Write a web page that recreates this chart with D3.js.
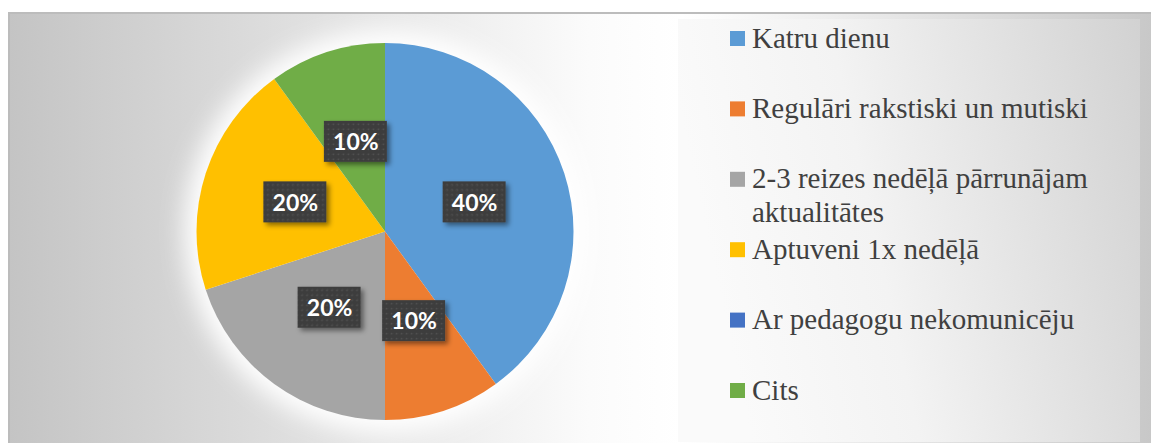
<!DOCTYPE html>
<html>
<head>
<meta charset="utf-8">
<script src="https://cdn.jsdelivr.net/npm/d3@7"></script>
<style>
  body { margin: 0; background: #ffffff; }
  svg { display: block; }
  .legend text { font-family: "Liberation Serif", "Times New Roman", Times, "DejaVu Serif", serif; font-size: 29px; }
  .label text { font-family: Lato, "Open Sans", sans-serif; font-weight: bold; font-size: 23px; }
</style>
</head>
<body>
<div id="chart"></div>
<script>
// chart data
var categories = [
    "Katru dienu",
    "Regulāri rakstiski un mutiski",
    "2-3 reizes nedēļā pārrunājam aktualitātes",
    "Aptuveni 1x nedēļā",
    "Ar pedagogu nekomunicēju",
    "Cits"
];
var shares = [40, 10, 20, 20, 0, 10];
var sliceColors = ["#5B9BD5", "#ED7D31", "#A5A5A5", "#FFC000", "#4472C4", "#70AD47"];

var svgWidth = 1151;
var svgHeight = 443;

var svg = d3.select("#chart")
    .append("svg")
    .attr("width", svgWidth)
    .attr("height", svgHeight);

var defs = svg.append("defs");

// background gradient of the chart area
var bgGrad = defs.append("linearGradient").attr("id", "bgGrad")
    .attr("x1", "0%").attr("y1", "0%").attr("x2", "100%").attr("y2", "0%");
bgGrad.append("stop").attr("offset", "0%").attr("stop-color", "#c4c4c4");
bgGrad.append("stop").attr("offset", "50%").attr("stop-color", "#fbfbfb");
bgGrad.append("stop").attr("offset", "58%").attr("stop-color", "#ffffff");
bgGrad.append("stop").attr("offset", "100%").attr("stop-color", "#c6c6c6");

// legend box gradient
var legGrad = defs.append("linearGradient").attr("id", "legGrad")
    .attr("x1", "0%").attr("y1", "20%").attr("x2", "100%").attr("y2", "0%");
legGrad.append("stop").attr("offset", "0%").attr("stop-color", "#fafafa");
legGrad.append("stop").attr("offset", "35%").attr("stop-color", "#f3f3f3");
legGrad.append("stop").attr("offset", "100%").attr("stop-color", "#d2d2d2");

// white glow round the pie
var glow = defs.append("filter").attr("id", "glow")
    .attr("x", "-30%").attr("y", "-30%").attr("width", "160%").attr("height", "160%");
glow.append("feGaussianBlur").attr("stdDeviation", 12);

// shadow for the label boxes
var shadow = defs.append("filter").attr("id", "shadow")
    .attr("x", "-30%").attr("y", "-30%").attr("width", "160%").attr("height", "170%");
shadow.append("feDropShadow")
    .attr("dx", 3).attr("dy", 3).attr("stdDeviation", 2.5)
    .attr("flood-color", "#000").attr("flood-opacity", 0.45);

// dotted fill of the label boxes
var dots = defs.append("pattern").attr("id", "dots")
    .attr("patternUnits", "userSpaceOnUse").attr("width", 5).attr("height", 5);
dots.append("rect").attr("width", 5).attr("height", 5).attr("fill", "#3e3e3e");
dots.append("circle").attr("cx", 2.5).attr("cy", 2.5).attr("r", 0.8).attr("fill", "#555555");

// outer frame
svg.append("rect")
    .attr("x", 9).attr("y", 13)
    .attr("width", 1160).attr("height", 460)
    .attr("fill", "url(#bgGrad)")
    .attr("stroke", "#bcbcbc")
    .attr("stroke-width", 2);

// pie
var cx = 385, cy = 231.5, radius = 188.5;

var pieGroup = svg.append("g")
    .attr("transform", `translate(${cx}, ${cy})`);

pieGroup.append("circle")
    .attr("r", radius + 12)
    .attr("fill", "#ffffff")
    .attr("filter", "url(#glow)");

var pie = d3.pie().sort(null).value(d => d);
var arc = d3.arc().innerRadius(0).outerRadius(radius);
var arcs = pie(shares);

pieGroup.selectAll("path.slice")
    .data(arcs)
    .enter()
    .append("path")
    .attr("class", "slice")
    .attr("d", arc)
    .attr("fill", (d, i) => sliceColors[i]);

// data labels
var labels = pieGroup.selectAll("g.label")
    .data(arcs.filter(d => d.value > 0))
    .enter()
    .append("g")
    .attr("class", "label")
    .attr("transform", d => `translate(${arc.centroid(d)})`);

labels.append("rect")
    .attr("x", -32).attr("y", -21)
    .attr("width", 63).attr("height", 41)
    .attr("fill", "url(#dots)")
    .attr("filter", "url(#shadow)");

labels.append("text")
    .attr("text-anchor", "middle")
    .attr("dy", "0.36em")
    .attr("fill", "#ffffff")
    .text(d => d.value + "%");

// legend
svg.append("rect")
    .attr("x", 678).attr("y", 19)
    .attr("width", 462).attr("height", 423)
    .attr("fill", "url(#legGrad)");

var legendY = d3.scalePoint()
    .domain(categories)
    .range([38.5, 390.5]);

var legend = svg.selectAll("g.legend")
    .data(categories)
    .enter()
    .append("g")
    .attr("class", "legend")
    .attr("transform", d => `translate(730, ${legendY(d)})`);

legend.append("rect")
    .attr("x", 0).attr("y", -7.5)
    .attr("width", 15).attr("height", 15)
    .attr("fill", (d, i) => sliceColors[i]);

var legendText = legend.append("text")
    .attr("x", 22)
    .attr("y", 9)
    .attr("fill", "#404040");

// wrap long legend entries
legendText.each(function(d) {
    var el = d3.select(this);
    var words = d.split(" ");
    var line = [];
    var tspan = el.append("tspan").attr("x", 22).attr("dy", 0);
    words.forEach(function(w) {
        line.push(w);
        tspan.text(line.join(" "));
        if (tspan.node().getComputedTextLength() > 370 && line.length > 1) {
            line.pop();
            tspan.text(line.join(" "));
            line = [w];
            tspan = el.append("tspan").attr("x", 22).attr("dy", "1.16em").text(w);
        }
    });
});
</script>
</body>
</html>
